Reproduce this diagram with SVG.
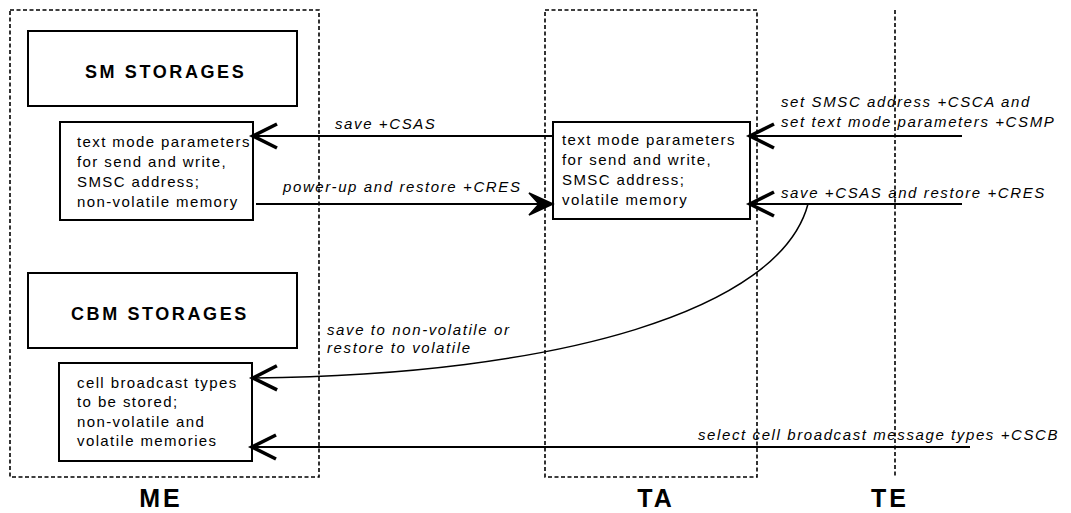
<svg xmlns="http://www.w3.org/2000/svg" width="1071" height="513" viewBox="0 0 1071 513">
<style>
.bg{fill:#fff}
.frame{fill:none;stroke:#000;stroke-width:1.6;stroke-dasharray:4 2.5}
.box{fill:#fff;stroke:#000;stroke-width:2}
.title{font-family:"Liberation Sans",Arial,sans-serif;font-weight:bold;font-size:18px;letter-spacing:2.6px;fill:#000}
.body{font-family:"Liberation Sans",Arial,sans-serif;font-size:15px;letter-spacing:1.4px;fill:#000}
.lbl{font-family:"Liberation Sans",Arial,sans-serif;font-style:italic;font-size:15px;letter-spacing:1.6px;fill:#000}
.big{font-family:"Liberation Sans",Arial,sans-serif;font-weight:bold;font-size:25px;letter-spacing:3px;fill:#000;text-anchor:middle}
.line{fill:none;stroke:#000;stroke-width:2}
.curve{fill:none;stroke:#000;stroke-width:1.5}
</style>
<defs>
<marker id="open" markerUnits="userSpaceOnUse" markerWidth="32" markerHeight="32" refX="27" refY="14" orient="auto" overflow="visible">
<path d="M3,2 L27,14 L3,26" fill="none" stroke="#000" stroke-width="3.6" stroke-linejoin="miter"/>
</marker>
<marker id="solid" markerUnits="userSpaceOnUse" markerWidth="32" markerHeight="32" refX="27" refY="14" orient="auto" overflow="visible">
<path d="M27,14 L3,3 L13,14 L3,25 Z" fill="#000" stroke="#000" stroke-width="1.5" stroke-linejoin="miter"/>
</marker>
</defs>
<rect class="bg" x="0" y="0" width="1071" height="513"/>

<g id="ME">
<rect class="frame" x="10" y="10" width="309" height="467"/>
<text class="big" x="161" y="507">ME</text>
</g>
<g id="TA">
<rect class="frame" x="545" y="10" width="212" height="467"/>
<text class="big" x="656" y="507">TA</text>
</g>
<g id="TE">
<line class="frame" x1="895" y1="10" x2="895" y2="477"/>
<text class="big" x="890" y="507">TE</text>
</g>

<g id="sm-storages">
<rect class="box" x="28" y="31" width="269" height="75"/>
<text class="title" x="85" y="78">SM STORAGES</text>
</g>
<g id="sm-params">
<rect class="box" x="60" y="122" width="193" height="98"/>
<text class="body" x="77" y="147">text mode parameters</text>
<text class="body" x="77" y="167">for send and write,</text>
<text class="body" x="77" y="187">SMSC address;</text>
<text class="body" x="77" y="207">non-volatile memory</text>
</g>
<g id="cbm-storages">
<rect class="box" x="28" y="273" width="269" height="75"/>
<text class="title" x="71" y="320">CBM STORAGES</text>
</g>
<g id="cbm-types">
<rect class="box" x="59" y="363" width="193" height="98"/>
<text class="body" x="77" y="388">cell broadcast types</text>
<text class="body" x="77" y="407">to be stored;</text>
<text class="body" x="77" y="427">non-volatile and</text>
<text class="body" x="77" y="446">volatile memories</text>
</g>
<g id="ta-params">
<rect class="box" x="553" y="122" width="197" height="97"/>
<text class="body" x="562" y="145">text mode parameters</text>
<text class="body" x="562" y="165">for send and write,</text>
<text class="body" x="562" y="185">SMSC address;</text>
<text class="body" x="562" y="205">volatile memory</text>
</g>

<g id="connectors">
<path class="line" d="M553,136 L253,136" marker-end="url(#open)"/>
<path class="line" d="M256,204 L553,204" marker-end="url(#solid)"/>
<path class="line" d="M962,136 L750,136" marker-end="url(#open)"/>
<path class="line" d="M962,204 L750,204" marker-end="url(#open)"/>
<path class="curve" d="M808,204 C780,310 560,375 253,378" marker-end="url(#open)"/>
<path class="line" d="M970,447 L252,447" marker-end="url(#open)"/>
<text class="lbl" x="335" y="129">save +CSAS</text>
<text class="lbl" x="283" y="192">power-up and restore +CRES</text>
<text class="lbl" x="781" y="107">set SMSC address +CSCA and</text>
<text class="lbl" x="781" y="127">set text mode parameters +CSMP</text>
<text class="lbl" x="781" y="198">save +CSAS and restore +CRES</text>
<text class="lbl" x="327" y="335">save to non-volatile or</text>
<text class="lbl" x="327" y="353">restore to volatile</text>
<text class="lbl" x="698" y="440">select cell broadcast message types +CSCB</text>
</g>
</svg>
